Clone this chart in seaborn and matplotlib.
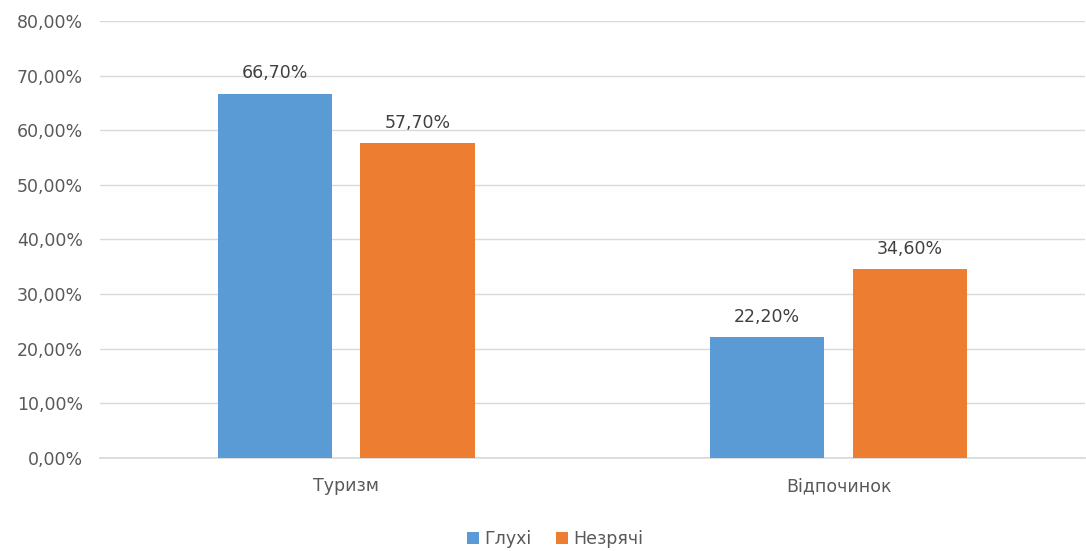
import matplotlib
matplotlib.use("Agg")
import matplotlib.pyplot as plt
import seaborn as sns
import pandas as pd
from matplotlib.ticker import FuncFormatter

categories = ["Туризм", "Відпочинок"]
groups = ["Глухі", "Незрячі"]
glukhi = [66.7, 22.2]
nezriachi = [57.7, 34.6]
colors = ["#5B9BD5", "#ED7D31"]

df = pd.DataFrame({
    "category": categories * 2,
    "group": [groups[0]] * 2 + [groups[1]] * 2,
    "value": glukhi + nezriachi,
})

sns.set_theme(style="white")
plt.rcParams["font.family"] = ["DejaVu Sans"]
text_color = "#595959"

fig = plt.figure(figsize=(10.86, 5.51), dpi=100)
ax = fig.add_axes([0.092, 0.169, 0.907, 0.793])

sns.barplot(data=df, x="category", y="value", hue="group", order=categories,
            hue_order=groups, palette=colors, width=0.58, gap=0.2,
            saturation=1, linewidth=0, ax=ax, legend=True, zorder=3)

# підписи значень
for cont in ax.containers:
    ax.bar_label(cont, labels=[f"{v:.2f}%".replace(".", ",") for v in cont.datavalues],
                 padding=8, fontsize=12.5, color="#404040")

ax.set_ylim(0, 80)
ax.set_xlim(-0.5, 1.5)
ax.set_yticks(range(0, 81, 10))
ax.yaxis.set_major_formatter(FuncFormatter(lambda v, p: f"{v:.2f}%".replace(".", ",")))
ax.grid(axis="y", color="#D9D9D9", linewidth=1, zorder=0)
ax.set_xlabel("")
ax.set_ylabel("")
for s in ["top", "right", "left"]:
    ax.spines[s].set_visible(False)
ax.spines["bottom"].set_color("#D9D9D9")
ax.tick_params(axis="y", length=0, labelsize=12.5, labelcolor=text_color, pad=12)
ax.tick_params(axis="x", length=0, labelsize=12.5, labelcolor=text_color, pad=14)

ax.legend(loc="upper center", bbox_to_anchor=(0.462, -0.13), ncol=2, frameon=False,
          fontsize=12.5, handlelength=0.7, handleheight=0.7, handletextpad=0.3,
          columnspacing=1.4, labelcolor=text_color)

fig.savefig("out.png", dpi=100)
